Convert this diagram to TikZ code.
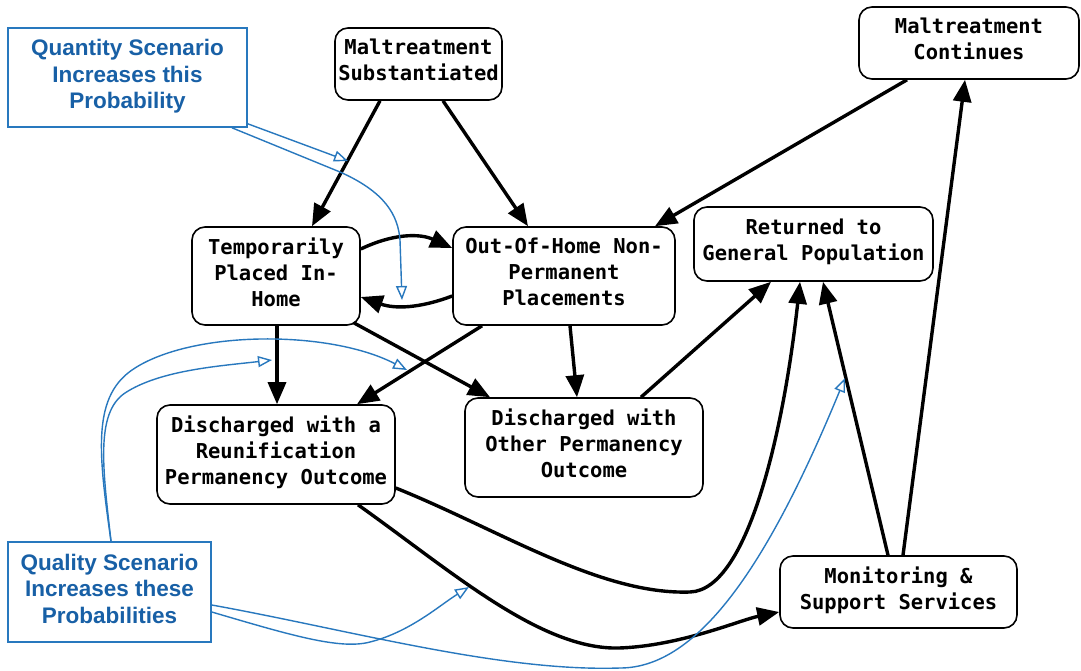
\documentclass[tikz,border=0pt]{standalone}
\usepackage{fontspec}
\setmainfont{Liberation Sans}
\setsansfont{Liberation Sans}
\setmonofont{DejaVu Sans Mono}
\usetikzlibrary{arrows.meta}
\definecolor{scenblue}{RGB}{40,120,190}
\definecolor{scentext}{RGB}{24,96,166}

\begin{document}
\begin{tikzpicture}[x=1pt,y=-1pt,
  state/.style={draw, line width=1.6pt, rounded corners=13pt, inner sep=0pt,
    align=center, font=\ttfamily\bfseries\fontsize{20.5}{26}\selectfont,
    execute at end node={\rule[-8pt]{0pt}{8pt}}},
  scenario/.style={draw=scenblue, line width=1.6pt, inner sep=0pt, align=center,
    text=scentext, font=\sffamily\bfseries\fontsize{22.5}{26.5}\selectfont,
    execute at end node={\rule[-7pt]{0pt}{7pt}}},
  flow/.style={line width=3.4pt, -{Triangle[length=22pt,width=18pt]}},
  hint/.style={draw=scenblue, line width=1.4pt,
    -{Triangle[open,length=14pt,width=11pt,fill=white]}}]

\fill[white] (0,0) rectangle (1081,670);
\useasboundingbox (0,0) rectangle (1081,670);

% states
\node[state, minimum width=167pt, minimum height=72pt] (ms) at (418.5,64) {Maltreatment\\Substantiated};
\node[state, minimum width=220pt, minimum height=72pt] (mc) at (969,43) {Maltreatment\\Continues};
\node[state, minimum width=168pt, minimum height=98pt] (temp) at (276,276) {Temporarily\\Placed In-\\Home};
\node[state, minimum width=222pt, minimum height=98pt] (ooh) at (564,276) {Out-Of-Home Non-\\Permanent\\Placements};
\node[state, minimum width=239pt, minimum height=74pt] (ret) at (813.5,244) {Returned to\\General Population};
\node[state, minimum width=238pt, minimum height=99pt] (reun) at (276,454.5) {Discharged with a\\Reunification\\Permanency Outcome};
\node[state, minimum width=238pt, minimum height=99pt] (oth) at (584,447.5) {Discharged with\\Other Permanency\\Outcome};
\node[state, minimum width=237pt, minimum height=72pt] (mon) at (898.5,592) {Monitoring \&\\Support Services};

% scenario notes
\node[scenario, minimum width=239pt, minimum height=99pt] (quant) at (127.5,77.5) {Quantity Scenario\\Increases this\\Probability};
\node[scenario, minimum width=203pt, minimum height=100pt] (qual) at (109.5,592) {Quality Scenario\\Increases these\\Probabilities};

% transitions
\draw[flow] ([xshift=-38.5pt]ms.south) -- ([xshift=36pt]temp.north);
\draw[flow] ([xshift=24.5pt]ms.south) -- ([xshift=-36pt]ooh.north);
\draw[flow] ([yshift=27pt]temp.east) to[bend left=25] ([yshift=28pt]ooh.west);
\draw[flow] ([yshift=-20pt]ooh.west) to[bend left=20] ([yshift=-21pt]temp.east);
\draw[flow] ([xshift=-62pt]mc.south) -- ([xshift=91pt]ooh.north);
\draw[flow] ([xshift=1pt]temp.south) -- ([xshift=1pt]reun.north);
\draw[flow] ([xshift=-7pt,yshift=3pt]temp.south east) -- ([xshift=-94pt]oth.north);
\draw[flow] ([xshift=-82pt]ooh.south) -- ([xshift=81pt]reun.north);
\draw[flow] ([xshift=6pt]ooh.south) -- ([xshift=-7pt]oth.north);
\draw[flow] ([xshift=57pt]oth.north) -- ([xshift=-42.5pt]ret.south);
\draw[flow] ([yshift=-33.5pt]reun.east) .. controls (500,530) and (600,595) .. (690,592)
  .. controls (750,590) and (785,420) .. ([xshift=-13.5pt]ret.south);
\draw[flow] ([xshift=82pt]reun.south) .. controls (450,570) and (540,650) .. (619,648)
  .. controls (680,646) and (740,620) .. ([yshift=-20pt]mon.west);
\draw[flow] ([xshift=-10.5pt]mon.north) -- ([xshift=9.5pt]ret.south);
\draw[flow] ([xshift=4.5pt]mon.north) -- ([xshift=-4pt]mc.south);

% scenario pointers
\coordinate (qa) at (348,161);
\coordinate (qb) at (402,300);
\coordinate (qc) at (272,360);
\coordinate (qd) at (407,370);
\coordinate (qe) at (469,587);
\coordinate (qf) at (845,378);

\draw[hint] ([yshift=4pt]quant.south east) -- (qa);
\draw[hint] ([xshift=104.5pt]quant.south) -- (340,172) .. controls (385,192) and (398,215) .. (400,240) -- (qb);
\draw[hint] ([xshift=1.5pt]qual.north) .. controls (103,470) and (95,413) .. (125,393)
  .. controls (160,370) and (220,366) .. (qc);
\draw[hint] ([xshift=1.5pt]qual.north) .. controls (98,450) and (92,395) .. (135,368)
  .. controls (195,330) and (330,330) .. (qd);
\draw[hint] ([yshift=-20pt]qual.east) .. controls (290,635) and (340,650) .. (370,642)
  .. controls (410,632) and (440,605) .. (qe);
\draw[hint] ([yshift=-13pt]qual.east) .. controls (350,630) and (500,672) .. (620,668)
  .. controls (700,668) and (770,560) .. (qf);
\end{tikzpicture}
\end{document}
